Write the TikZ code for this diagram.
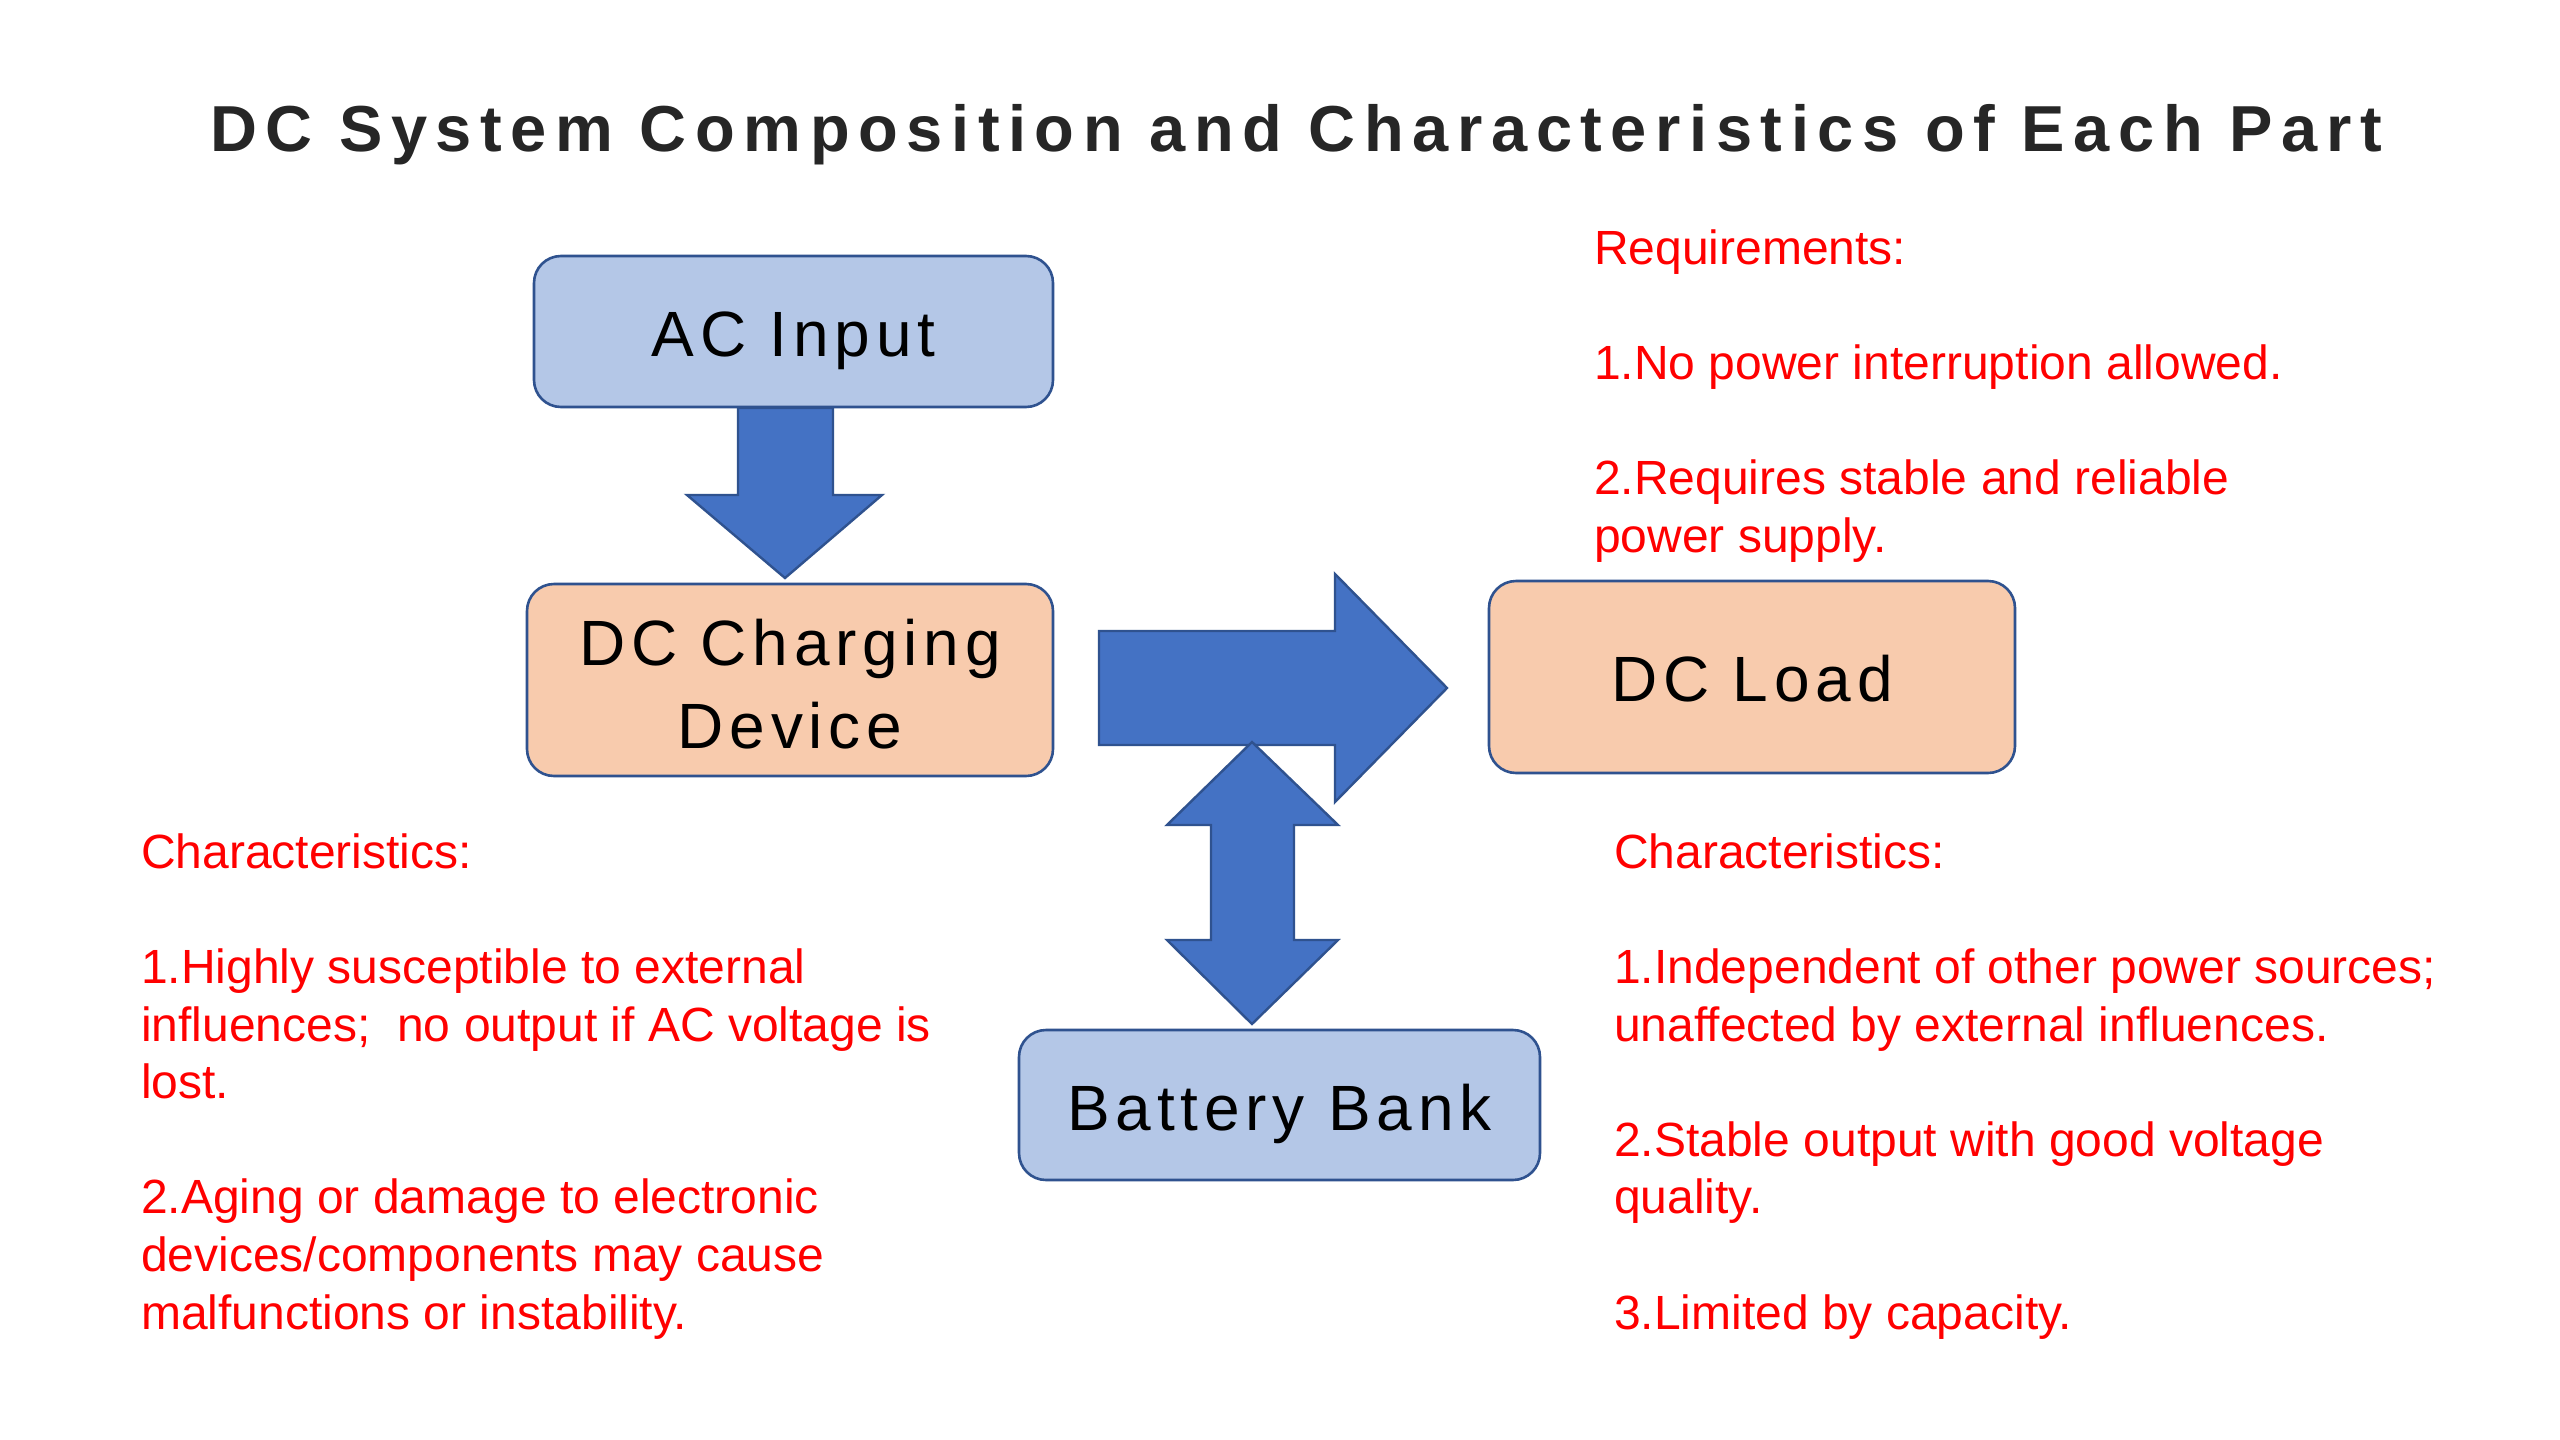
\documentclass[tikz,border=0pt]{standalone}
\usepackage{fontspec}
\setmainfont{Liberation Sans}
\newfontfamily\boxfont[LetterSpace=9]{Liberation Sans}
\newfontfamily\titlefont[LetterSpace=13.2]{Liberation Sans}
\usetikzlibrary{calc}
\definecolor{arrowfill}{HTML}{4472C4}
\definecolor{arrowline}{HTML}{2F528F}
\definecolor{boxblue}{HTML}{B4C7E7}
\definecolor{boxorange}{HTML}{F8CBAD}
\definecolor{titlegray}{HTML}{262626}
\definecolor{notered}{HTML}{FF0000}
\newcommand{\lowered}[2]{\raisebox{-#1pt}[\height][\depth]{#2}}
\begin{document}
\begin{tikzpicture}[x=1pt,y=-1pt,
  box/.style={draw=arrowline, line width=2.6pt, rounded corners=27pt, inner sep=0pt, outer sep=0pt,
              align=center, font=\boxfont\fontsize{64}{83}\selectfont},
  blockarrow/.style={fill=arrowfill, draw=arrowline, line width=2.4pt, line join=miter},
  note/.style={text=notered, anchor=base west, inner sep=0pt, font=\fontsize{48}{57.6}\selectfont}]
\fill[white] (0,0) rectangle (2560,1440);
\useasboundingbox (0,0) rectangle (2560,1440);

% title
\node[anchor=base, inner sep=0pt, text=titlegray, font=\titlefont\bfseries\fontsize{65}{78}\selectfont]
  (title) at (1296,151) {DC System Composition and Characteristics of Each Part};

% boxes
\node[box, fill=boxblue, minimum width=519pt, minimum height=151pt] (ac) at (793.5,331.5) {\lowered{9}{AC Input}};
\node[box, fill=boxorange, minimum width=526pt, minimum height=192pt] (dcc) at (790,680) {\lowered{4}{DC Charging}\\\lowered{4}{Device}};
\node[box, fill=boxorange, minimum width=526pt, minimum height=192pt] (load) at (1752,677) {\lowered{2}{DC Load}};
\node[box, fill=boxblue, minimum width=521pt, minimum height=150pt] (batt) at (1279.5,1105) {\lowered{9}{Battery Bank}};

% block arrows
\draw[blockarrow] (738,408) -- (833,408) -- (833,495) -- (882,495) -- (785,578) -- (687,495) -- (738,495) -- cycle;
\draw[blockarrow] (1099,631) -- (1335,631) -- (1335,574) -- (1447,688) -- (1335,802) -- (1335,745) -- (1099,745) -- cycle;
\draw[blockarrow] (1252,742) -- (1338,825) -- (1294,825) -- (1294,940) -- (1338,940) -- (1252,1024)
   -- (1167,940) -- (1211,940) -- (1211,825) -- (1167,825) -- cycle;

% requirements
\node[note] (req0) at (1594,264) {Requirements:};
\node[note] (req1) at (1594,379) {1.No power interruption allowed.};
\node[note] (req2) at (1594,494) {2.Requires stable and reliable};
\node[note] (req3) at (1594,552) {power supply.};

% left characteristics
\node[note] (lc0) at (141,868) {Characteristics:};
\node[note] (lc1) at (141,983) {1.Highly susceptible to external};
\node[note] (lc2) at (141,1041) {influences;\ \ no output if AC voltage is};
\node[note] (lc3) at (141,1098) {lost.};
\node[note] (lc4) at (141,1213) {2.Aging or damage to electronic};
\node[note] (lc5) at (141,1271) {devices/components may cause};
\node[note] (lc6) at (141,1329) {malfunctions or instability.};

% right characteristics
\node[note] (rc0) at (1614,868) {Characteristics:};
\node[note] (rc1) at (1614,983) {1.Independent of other power sources;};
\node[note] (rc2) at (1614,1041) {unaffected by external influences.};
\node[note] (rc3) at (1614,1156) {2.Stable output with good voltage};
\node[note] (rc4) at (1614,1213) {quality.};
\node[note] (rc5) at (1614,1329) {3.Limited by capacity.};
\end{tikzpicture}
\end{document}
